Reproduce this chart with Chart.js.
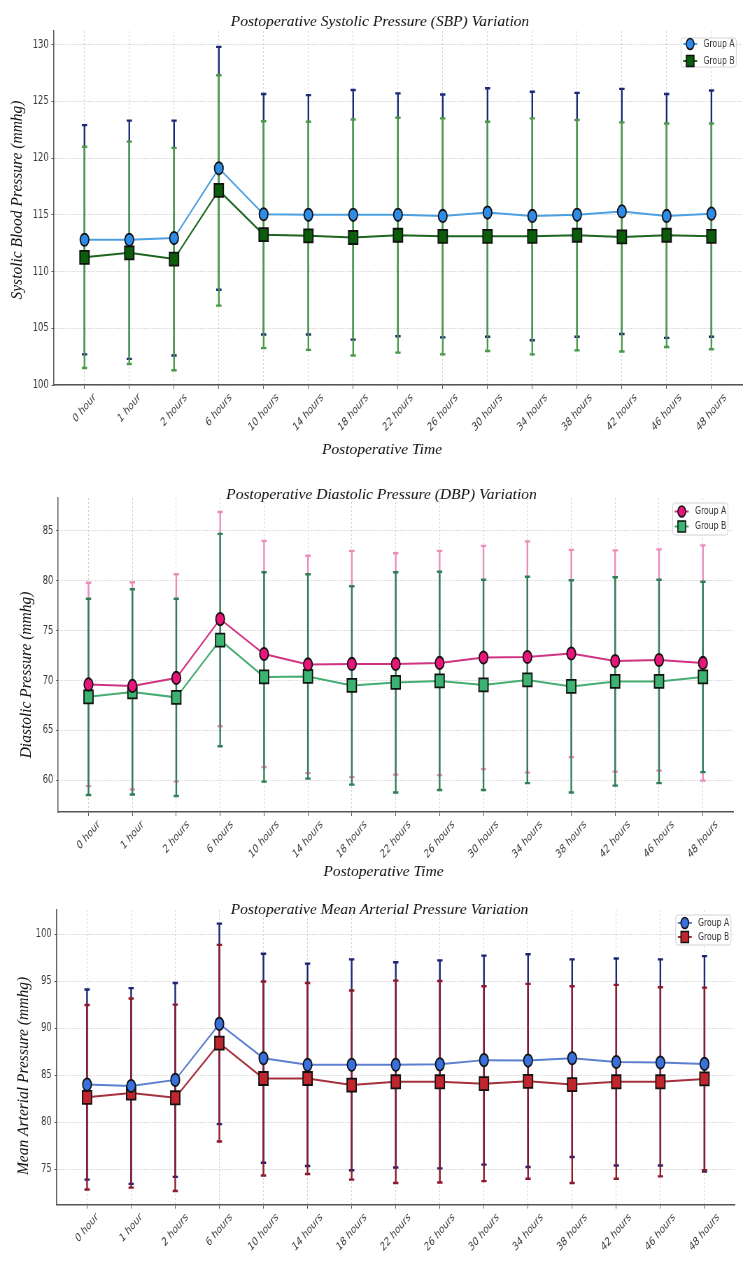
<!DOCTYPE html>
<html>
<head>
<meta charset="utf-8">
<script src="https://cdn.jsdelivr.net/npm/chart.js@4.4.1/dist/chart.umd.min.js"></script>
<style>
  html, body { margin: 0; padding: 0; background: #fff; overflow: hidden; }
  #page { position: relative; width: 750px; height: 1261px; overflow: hidden; }
  /* the reference figure is squeezed horizontally, so each panel is drawn wide and scaled down */
  .panel { position: absolute; left: 0; transform-origin: 0 0; transform: scaleX(0.699627); }
</style>
</head>
<body>
<div id="page">
  <div class="panel" style="top:0"><canvas id="sbp" width="1072" height="470"></canvas></div>
  <div class="panel" style="top:470px"><canvas id="dbp" width="1072" height="420"></canvas></div>
  <div class="panel" style="top:890px"><canvas id="map" width="1072" height="371"></canvas></div>
</div>
<script>
const SX = 750 / 1072;

const cats = ['0 hour', '1 hour', '2 hours', '6 hours', '10 hours', '14 hours', '18 hours', '22 hours',
  '26 hours', '30 hours', '34 hours', '38 hours', '42 hours', '46 hours', '48 hours'];

const sbpTicks = [100, 105, 110, 115, 120, 125, 130];
const dbpTicks = [60, 65, 70, 75, 80, 85];
const mapTicks = [75, 80, 85, 90, 95, 100];

// systolic, mean and SD per time point
const sbpMeanA = [112.8, 112.8, 112.95, 119.1, 115.05, 115.0, 115.0, 115.0, 114.9, 115.2, 114.9, 115.0, 115.3, 114.9, 115.1];
const sbpSdA = [10.1, 10.5, 10.35, 10.7, 10.6, 10.55, 11.0, 10.7, 10.7, 10.95, 10.95, 10.75, 10.8, 10.75, 10.85];
const sbpMeanB = [111.25, 111.65, 111.1, 117.15, 113.25, 113.15, 113.0, 113.2, 113.1, 113.1, 113.1, 113.2, 113.05, 113.2, 113.1];
const sbpSdB = [9.75, 9.8, 9.8, 10.15, 10.0, 10.05, 10.4, 10.35, 10.4, 10.1, 10.4, 10.15, 10.1, 9.85, 9.95];

// diastolic
const dbpMeanA = [69.6, 69.45, 70.25, 76.15, 72.65, 71.6, 71.65, 71.65, 71.75, 72.3, 72.35, 72.7, 71.95, 72.05, 71.75];
const dbpSdA = [10.2, 10.4, 10.4, 10.75, 11.35, 10.9, 11.35, 11.1, 11.25, 11.2, 11.6, 10.4, 11.1, 11.1, 11.8];
const dbpMeanB = [68.35, 68.85, 68.3, 74.05, 70.35, 70.4, 69.5, 69.8, 69.95, 69.55, 70.05, 69.4, 69.9, 69.9, 70.35];
const dbpSdB = [9.85, 10.3, 9.9, 10.65, 10.5, 10.25, 9.95, 11.05, 10.95, 10.55, 10.35, 10.65, 10.45, 10.2, 9.55];

// mean arterial
const mapMeanA = [84.0, 83.85, 84.5, 90.45, 86.8, 86.1, 86.1, 86.1, 86.15, 86.6, 86.55, 86.8, 86.4, 86.35, 86.2];
const mapSdA = [10.1, 10.4, 10.3, 10.65, 11.1, 10.75, 11.2, 10.9, 11.05, 11.1, 11.3, 10.5, 11.0, 10.95, 11.45];
const mapMeanB = [82.65, 83.1, 82.6, 88.4, 84.65, 84.65, 83.95, 84.3, 84.3, 84.1, 84.35, 84.0, 84.3, 84.3, 84.6];
const mapSdB = [9.8, 10.05, 9.9, 10.45, 10.3, 10.15, 10.05, 10.75, 10.7, 10.35, 10.35, 10.45, 10.3, 10.05, 9.7];

// mean +/- SD whiskers with caps, under the lines
const errorBars = {
  id: 'errorBars',
  beforeDatasetsDraw(chart) {
    const { ctx, scales: { x, y } } = chart;
    chart.data.datasets.forEach(ds => {
      ctx.save();
      ctx.strokeStyle = ds.errColor;
      ds.data.forEach((p, i) => {
        const px = x.getPixelForValue(p.x);
        const top = y.getPixelForValue(p.y + ds.sd[i]);
        const bot = y.getPixelForValue(p.y - ds.sd[i]);
        ctx.lineWidth = 2.4;
        ctx.beginPath();
        ctx.moveTo(px, top);
        ctx.lineTo(px, bot);
        ctx.stroke();
        ctx.lineWidth = 2.4;
        ctx.beginPath();
        ctx.moveTo(px - 3.8, top); ctx.lineTo(px + 3.8, top);
        ctx.moveTo(px - 3.8, bot); ctx.lineTo(px + 3.8, bot);
        ctx.stroke();
      });
      ctx.restore();
    });
  }
};

// slanted x labels, centred on their tick like the reference
const slantLabels = {
  id: 'slantLabels',
  afterDraw(chart) {
    const { ctx, scales: { x } } = chart;
    const ang = 40 * Math.PI / 180;
    const size = 11.8;
    ctx.save();
    ctx.font = size + 'px "DejaVu Sans", sans-serif';
    ctx.fillStyle = '#3a3a3a';
    ctx.textAlign = 'center';
    ctx.textBaseline = 'middle';
    x.ticks.forEach(t => {
      const txt = cats[t.value];
      const w = ctx.measureText(txt).width;
      const bh = w * Math.sin(ang) + size * Math.cos(ang);
      ctx.save();
      ctx.translate(x.getPixelForValue(t.value), x.top + 6.5 + bh / 2);
      ctx.rotate(-ang);
      ctx.fillText(txt, 0, 0);
      ctx.restore();
    });
    ctx.restore();
  }
};

// framed legend inside the top right of the plot
const boxLegend = {
  id: 'boxLegend',
  afterDraw(chart, args, o) {
    const { ctx, chartArea: ca } = chart;
    const w = 79;
    const x0 = ca.right - o.dx - w, y0 = ca.top + o.dy;
    ctx.save();
    ctx.beginPath();
    ctx.roundRect(x0, y0, w, o.h, 3);
    ctx.fillStyle = 'rgba(255,255,255,0.9)';
    ctx.fill();
    ctx.strokeStyle = '#d2d2d2';
    ctx.lineWidth = 1;
    ctx.stroke();
    chart.data.datasets.forEach((ds, i) => {
      const cy = y0 + (o.h - o.gap) / 2 + i * o.gap;
      ctx.strokeStyle = ds.borderColor;
      ctx.lineWidth = 2;
      ctx.beginPath();
      ctx.moveTo(x0 + 3, cy);
      ctx.lineTo(x0 + 23, cy);
      ctx.stroke();
      ctx.fillStyle = ds.pointBackgroundColor;
      ctx.strokeStyle = '#111';
      ctx.lineWidth = 1.6;
      ctx.beginPath();
      if (ds.pointStyle === 'rect') ctx.rect(x0 + 7.5, cy - 5.5, 11, 11);
      else ctx.arc(x0 + 13, cy, 5.5, 0, Math.PI * 2);
      ctx.fill();
      ctx.stroke();
      ctx.fillStyle = '#333';
      ctx.font = '11px "DejaVu Sans", sans-serif';
      ctx.textAlign = 'left';
      ctx.textBaseline = 'middle';
      ctx.fillText(ds.label, x0 + 32, cy);
    });
    ctx.restore();
  }
};

// titles sit on top of the squeeze, so they are drawn unsqueezed
const overlayText = {
  id: 'overlayText',
  afterDraw(chart, args, o) {
    const ctx = chart.ctx;
    ctx.save();
    ctx.fillStyle = '#111';
    ctx.font = 'italic 15.5px "Liberation Serif", serif';
    ctx.textAlign = 'center';
    ctx.textBaseline = 'alphabetic';
    o.items.forEach(t => {
      ctx.save();
      ctx.translate(t.x / SX, t.y);
      ctx.scale(1 / SX, 1);
      if (t.rot) ctx.rotate(-Math.PI / 2);
      ctx.fillText(t.text, 0, 0);
      ctx.restore();
    });
    ctx.restore();
  }
};

function series(label, means, sd, c) {
  return {
    label: label,
    sd: sd,
    errColor: c.err,
    data: means.map((m, i) => ({ x: i, y: m })),
    borderColor: c.line,
    borderWidth: 2,
    tension: 0,
    pointStyle: c.shape,
    pointRadius: c.shape === 'rect' ? 9.2 : 6.2,
    pointBackgroundColor: c.fill,
    pointBorderColor: '#111',
    pointBorderWidth: 1.8
  };
}

const gridOpts = { color: '#d2d2d2', lineWidth: 1, tickColor: '#555', tickBorderDash: [] };
const borderOpts = { color: '#555', width: 1.5, dash: [2, 2] };

function build(id, o) {
  return new Chart(document.getElementById(id), {
    type: 'line',
    data: { datasets: o.datasets },
    options: {
      responsive: false,
      animation: false,
      events: [],
      devicePixelRatio: 1,
      layout: { padding: { top: o.top, right: o.right, left: 0, bottom: 0 } },
      plugins: {
        legend: { display: false },
        tooltip: { enabled: false },
        boxLegend: o.legend,
        overlayText: { items: o.texts }
      },
      scales: {
        x: {
          type: 'linear',
          bounds: 'data',
          min: -0.69,
          max: 14.69,
          afterBuildTicks: s => { s.ticks = cats.map((_, i) => ({ value: i })); },
          afterFit: s => { s.height = o.xHeight; },
          ticks: { display: false },
          grid: Object.assign({ tickLength: 4 }, gridOpts),
          border: borderOpts
        },
        y: {
          type: 'linear',
          bounds: 'data',
          min: o.ymin,
          max: o.ymax,
          afterBuildTicks: s => { s.ticks = o.yticks.map(v => ({ value: v })); },
          afterFit: s => { s.width = o.left; },
          ticks: { padding: 4, color: '#3a3a3a', font: { family: '"DejaVu Sans", sans-serif', size: 12 } },
          grid: Object.assign({ tickLength: 3 }, gridOpts),
          border: borderOpts
        }
      }
    },
    plugins: [errorBars, slantLabels, boxLegend, overlayText]
  });
}

build('sbp', {
  datasets: [
    series('Group A', sbpMeanA, sbpSdA, { line: '#4c9fe0', fill: '#2f8ce6', err: '#1b2a72', shape: 'circle' }),
    series('Group B', sbpMeanB, sbpSdB, { line: '#1d651d', fill: '#0b5d0b', err: '#4a9a4a', shape: 'rect' })
  ],
  top: 31, right: 7, left: 76.6, xHeight: 85,
  ymin: 100, ymax: 131.2, yticks: sbpTicks,
  legend: { dx: 8.6, dy: 7, h: 29, gap: 17 },
  texts: [
    { text: 'Postoperative Systolic Pressure (SBP) Variation', x: 380, y: 26 },
    { text: 'Postoperative Time', x: 382, y: 454 },
    { text: 'Systolic Blood Pressure (mmhg)', x: 21.5, y: 200, rot: true }
  ]
});

build('dbp', {
  datasets: [
    series('Group A', dbpMeanA, dbpSdA, { line: '#d13383', fill: '#e8157a', err: '#ea8cbc', shape: 'circle' }),
    series('Group B', dbpMeanB, dbpSdB, { line: '#45ad72', fill: '#3cb371', err: '#2f7f56', shape: 'rect' })
  ],
  top: 28, right: 24, left: 83.2, xHeight: 78,
  ymin: 56.8, ymax: 88.3, yticks: dbpTicks,
  legend: { dx: 7.6, dy: 5, h: 32, gap: 15 },
  texts: [
    { text: 'Postoperative Diastolic Pressure (DBP) Variation', x: 381.5, y: 29 },
    { text: 'Postoperative Time', x: 383.5, y: 406 },
    { text: 'Diastolic Pressure (mmhg)', x: 31, y: 205, rot: true }
  ]
});

build('map', {
  datasets: [
    series('Group A', mapMeanA, mapSdA, { line: '#5b80cf', fill: '#3a70dc', err: '#1b2472', shape: 'circle' }),
    series('Group B', mapMeanB, mapSdB, { line: '#a3303c', fill: '#c1262e', err: '#8b1b2c', shape: 'rect' })
  ],
  top: 20, right: 21.6, left: 80.9, xHeight: 56.3,
  ymin: 71.24, ymax: 102.55, yticks: mapTicks,
  legend: { dx: 5.6, dy: 5, h: 30, gap: 14 },
  texts: [
    { text: 'Postoperative Mean Arterial Pressure Variation', x: 379.5, y: 24 },
    { text: 'Mean Arterial Pressure (mmhg)', x: 28, y: 186, rot: true }
  ]
});
</script>
</body>
</html>
